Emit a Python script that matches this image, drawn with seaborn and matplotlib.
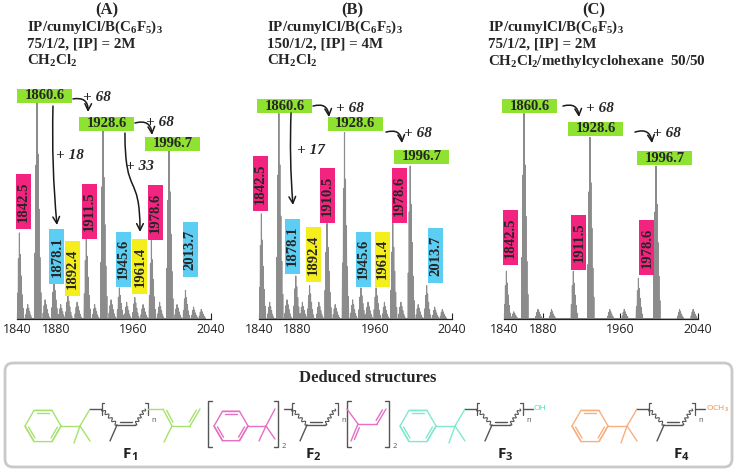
import numpy as np
import pandas as pd
import seaborn as sns
import matplotlib
matplotlib.use("Agg")
import matplotlib.pyplot as plt
from matplotlib.patches import Rectangle, FancyBboxPatch, FancyArrowPatch
from matplotlib.path import Path

# ---------------- data ----------------
# labelled peaks: m/z, height (% of panel scale), series (g=F1, p=F2, c=F3, y=F4)
mz_A = [1842.5, 1860.6, 1878.1, 1892.4, 1911.5, 1928.6, 1945.6, 1961.4, 1978.6, 1996.7, 2013.7]
int_A = [36, 92, 16, 10, 35, 79, 13, 9, 33, 71, 12]
fam_A = ["p", "g", "c", "y", "p", "g", "c", "y", "p", "g", "c"]
txt_A = ["1842.5", "1860.6", "1878.1", "1892.4", "1911.5", "1928.6", "1945.6", "1961.4", "1978.6", "1996.7", "2013.7"]

mz_B = [1842.5, 1860.6, 1878.1, 1892.4, 1910.5, 1928.6, 1945.6, 1961.4, 1978.6, 1996.7, 2013.7]
int_B = [44, 86, 18, 14, 40, 78, 13, 13, 40, 64, 14]
fam_B = ["p", "g", "c", "y", "p", "g", "c", "y", "p", "g", "c"]
txt_B = ["1842.5", "1860.6", "1878.1", "1892.4", "1910.5", "1928.6", "1945.6", "1961.4", "1978.6", "1996.7", "2013.7"]

mz_C = [1842.5, 1860.6, 1911.5, 1928.6, 1978.6, 1996.7]
int_C = [20, 86, 20, 76, 17, 64]
fam_C = ["p", "g", "p", "g", "p", "g"]
txt_C = ["1842.5", "1860.6", "1911.5", "1928.6", "1978.6", "1996.7"]

# small unlabelled peaks (baseline)
minor_mz_A = [1851, 1869, 1885, 1902, 1920, 1937, 1953, 1970, 1987, 2005, 2022, 2030]
minor_int_A = [6, 8, 6, 7, 6, 8, 7, 6, 7, 6, 5, 4]
minor_mz_B = [1851, 1869, 1885, 1902, 1919, 1937, 1953, 1970, 1987, 2005, 2022, 2030]
minor_int_B = [7, 8, 7, 7, 6, 8, 7, 7, 7, 6, 5, 4]
minor_mz_C = [1850, 1875, 1889, 1949, 1964, 2021, 2035]
minor_int_C = [3, 4, 4, 4, 4, 4, 4]

# isotope envelope read from the main clusters
iso_off = [-2, -1, 0, 1, 2, 3, 4]
iso_rel = [0.3, 0.7, 1.0, 0.75, 0.5, 0.28, 0.12]

# mass shifts written between labels
shift_A = ["+ 68", "+ 68", "+ 18", "+ 33"]
shift_B = ["+ 68", "+ 68", "+ 17"]
shift_C = ["+ 68", "+ 68"]

titles = ["(A)", "(B)", "(C)"]
conds = [
    [r"IP/cumylCl/B(C$_\mathrm{6}$F$_\mathrm{5}$)$_\mathrm{3}$", "75/1/2, [IP] = 2M", r"CH$_\mathrm{2}$Cl$_\mathrm{2}$"],
    [r"IP/cumylCl/B(C$_\mathrm{6}$F$_\mathrm{5}$)$_\mathrm{3}$", "150/1/2, [IP] = 4M", r"CH$_\mathrm{2}$Cl$_\mathrm{2}$"],
    [r"IP/cumylCl/B(C$_\mathrm{6}$F$_\mathrm{5}$)$_\mathrm{3}$", "75/1/2, [IP] = 2M",
     r"CH$_\mathrm{2}$Cl$_\mathrm{2}$/methylcyclohexane  50/50"],
]
xticks = [1840, 1880, 1960, 2040]

# ---------------- layout (positions in m/z / height units) ----------------
lab_A = [(1846.9, 49), (1868.4, 93.5), (1881.2, 26), (1897.2, 21), (1914.7, 45), (1932.3, 81.6),
         (1949.3, 25), (1966.8, 21.8), (1982.8, 44.4), (2000.8, 73.4), (2018.4, 28.9)]
lab_B = [(1841.5, 56.5), (1866.4, 89.1), (1874.7, 30.5), (1896.5, 26.8), (1910.5, 51.5), (1939.5, 81.6),
         (1948.3, 25.1), (1968.0, 25.1), (1985.6, 51.5), (2008.9, 67.8), (2022.9, 26.4)]
lab_C = [(1846.2, 33.9), (1866.8, 89.1), (1917.3, 32.0), (1934.6, 79.5), (1987.4, 29.9), (2005.9, 67.2)]

# arrows: (start, end, curvature), shift text positions
arr_A = [((1897.7, 92.1), (1913.2, 86.6), -0.6), ((1961.6, 82.0), (1979.2, 77.0), -0.6),
         ((1877.1, 89.1), (1881.2, 39.3), 0.03), None]
txtpos_A = [(1922.5, 92.5), (1987.4, 82.4), (1894.6, 68.6), (1966.8, 64.0)]
arr_B = [((1896.0, 89.1), (1912.5, 84.5), -0.6), ((1971.6, 78.2), (1988.2, 73.6), -0.6),
         ((1873.2, 86.2), (1875.2, 47.7), 0.03)]
txtpos_B = [(1934.3, 87.9), (2004.8, 77.8), (1893.9, 70.3)]
arr_C = [((1900.8, 89.1), (1917.3, 84.5), -0.6), ((1975.0, 78.2), (1992.6, 73.6), -0.6)]
txtpos_C = [(1939.0, 87.9), (2008.0, 77.8)]

W, H = 737, 472
panel_px = [(17, 194), (259, 193), (504, 194)]   # left, width of each spectrum axis
AX_BOTTOM, AX_TOP = 319, 80

fam_col = {"g": "#8fe22f", "p": "#f2247f", "c": "#5ccdf3", "y": "#f4ee1c"}

sns.set_theme(style="white")
plt.rcParams["font.family"] = ["Open Sans", "DejaVu Sans"]
plt.rcParams["mathtext.fontset"] = "custom"
plt.rcParams["mathtext.rm"] = "Liberation Serif:bold"
plt.rcParams["mathtext.it"] = "Liberation Serif:bold:italic"
plt.rcParams["mathtext.bf"] = "Liberation Serif:bold"
SERIF = "Liberation Serif"

fig = plt.figure(figsize=(W / 100, H / 100), dpi=100)

# overlay axes in pixel coordinates for titles and structures
ov = fig.add_axes([0, 0, 1, 1])
ov.set_xlim(0, W)
ov.set_ylim(H, 0)
ov.axis("off")


def stick_frame(mz, inten, minor_mz, minor_int):
    xs, ys = [], []
    for m, h in list(zip(mz, inten)) + list(zip(minor_mz, minor_int)):
        for o, r in zip(iso_off, iso_rel):
            c = m + o
            xs += [c - 0.35, c, c + 0.35]
            ys += [0, h * r, 0]
    return pd.DataFrame({"mz": xs, "intensity": ys})


def tag(ax, x, y, text, fam, wpx):
    vertical = fam != "g"
    w, h = (15, 55) if vertical else (55, 14)
    dx = w * 200 / wpx
    dy = h * 100 / (AX_BOTTOM - AX_TOP)
    ax.add_patch(Rectangle((x - dx / 2, y - dy / 2), dx, dy, facecolor=fam_col[fam],
                           edgecolor="none", clip_on=False, zorder=3))
    ax.text(x, y, text, rotation=90 if vertical else 0, ha="center", va="center",
            fontsize=10.5, fontweight="bold", family=SERIF, zorder=4, clip_on=False)


panels = [
    (mz_A, int_A, fam_A, txt_A, minor_mz_A, minor_int_A, lab_A, arr_A, shift_A, txtpos_A),
    (mz_B, int_B, fam_B, txt_B, minor_mz_B, minor_int_B, lab_B, arr_B, shift_B, txtpos_B),
    (mz_C, int_C, fam_C, txt_C, minor_mz_C, minor_int_C, lab_C, arr_C, shift_C, txtpos_C),
]

for i, (mz, inten, fam, txt, mmz, mint, labs, arrs, shifts, tpos) in enumerate(panels):
    left, wpx = panel_px[i]
    ax = fig.add_axes([left / W, (H - AX_BOTTOM) / H, wpx / W, (AX_BOTTOM - AX_TOP) / H])
    ax.set_facecolor("none")
    df = stick_frame(mz, inten, mmz, mint)
    sns.lineplot(data=df, x="mz", y="intensity", sort=False, estimator=None,
                 color="#8c8c8c", lw=0.8, ax=ax)
    ax.set_xlim(1840, 2040)
    ax.set_ylim(0, 100)
    ax.set_xticks(xticks)
    ax.set_yticks([])
    ax.set_xlabel("")
    ax.set_ylabel("")
    sns.despine(ax=ax, left=True)
    ax.spines["bottom"].set_color("#222222")
    ax.spines["bottom"].set_linewidth(0.9)
    ax.tick_params(axis="x", direction="in", length=4, width=0.8, pad=3,
                   labelsize=9, colors="#222222", bottom=True)

    for (lx, ly), t, f in zip(labs, txt, fam):
        tag(ax, lx, ly, t, f, wpx)

    for k, a in enumerate(arrs):
        if a is None:
            # S-shaped long arrow from 1928.6 down to 1961.4
            verts = [(1951.3, 77.8), (1951.3, 50), (1966.8, 62), (1966.8, 36.4)]
            p = Path(verts, [Path.MOVETO, Path.CURVE4, Path.CURVE4, Path.CURVE4])
            ax.add_patch(FancyArrowPatch(path=p, arrowstyle="->", mutation_scale=12,
                                         color="k", lw=1.1, zorder=5, clip_on=False))
            continue
        s, e, rad = a
        ax.annotate("", xy=e, xytext=s,
                    arrowprops=dict(arrowstyle="->", color="k", lw=1.1, shrinkA=0, shrinkB=0,
                                    mutation_scale=12, connectionstyle=f"arc3,rad={rad}"),
                    annotation_clip=False, zorder=5)
    for t, (tx, ty) in zip(shifts, tpos):
        ax.text(tx, ty, t, ha="center", va="center", fontsize=11, fontweight="bold",
                fontstyle="italic", family=SERIF, zorder=5)

# titles and conditions
title_cx = [107, 352, 594]
cond_left = [27, 267, 488]
for i in range(3):
    ov.text(title_cx[i], 10, titles[i], ha="center", va="center", fontsize=12,
            fontweight="bold", family=SERIF)
    for j, line in enumerate(conds[i]):
        ov.text(cond_left[i], 27 + 17 * j, line, ha="left", va="center", fontsize=10.8,
                fontweight="bold", family=SERIF)

# ---------------- deduced structures box ----------------
ov.add_patch(FancyBboxPatch((5, 363), 727, 104, boxstyle="round,pad=0,rounding_size=8",
                            facecolor="white", edgecolor="#c9c9c9", lw=2))
ov.text(368, 378, "Deduced structures", ha="center", va="center", fontsize=12,
        fontweight="bold", family=SERIF)

GRAY = "#555555"
LW = 1.0


def seg(p, q, col):
    ov.plot([p[0], q[0]], [p[1], q[1]], color=col, lw=LW, solid_capstyle="round")


def dbl(p, q, col, toward):
    seg(p, q, col)
    p, q, c = np.array(p, float), np.array(q, float), np.array(toward, float)
    d = q - p
    n = np.array([-d[1], d[0]]) / np.hypot(*d)
    if np.dot(c - (p + q) / 2, n) < 0:
        n = -n
    p2 = p + n * 2.6 + d * 0.15
    q2 = q + n * 2.6 - d * 0.15
    seg(p2, q2, col)


def hexring(cx, cy, r, col):
    ang = np.deg2rad(np.arange(0, 361, 60))
    xs = cx + r * np.cos(ang)
    ys = cy - r * np.sin(ang)
    ov.plot(xs, ys, color=col, lw=LW)
    for k in (1, 3, 5):
        dbl((xs[k], ys[k]), (xs[k + 1], ys[k + 1]), col, (cx, cy))


def wavy(p, q, col=GRAY):
    t = np.linspace(0, 1, 80)
    p, q = np.array(p, float), np.array(q, float)
    d = q - p
    n = np.array([-d[1], d[0]]) / np.hypot(*d)
    amp = 1.4 * np.sin(t * 2 * np.pi * 4.5)
    pts = np.outer(1 - t, p) + np.outer(t, q) + np.outer(amp, n)
    ov.plot(pts[:, 0], pts[:, 1], color=col, lw=0.8)


def small_bracket(x, y, side):
    ov.plot([x, x], [y - 6, y + 6], color=GRAY, lw=0.9)
    ov.plot([x, x + 2.5 * side], [y - 6, y - 6], color=GRAY, lw=0.9)


def big_bracket(x, side, sub=None):
    ov.plot([x + 4 * side, x, x, x + 4 * side], [401, 401, 447, 447], color=GRAY, lw=1.0)
    if sub:
        ov.text(x + 4, 447, sub, fontsize=5.5, color=GRAY, ha="left", va="center")


def flabel(x, num):
    ov.text(x, 454, "F", ha="center", va="center", fontsize=11, fontweight="bold",
            family="Open Sans", color="#222222")
    ov.text(x + 4, 458, num, ha="left", va="center", fontsize=8, fontweight="bold",
            family="Open Sans", color="#222222")


def chain(x0):
    # polyisoprene repeat unit starting at x0 on the upper row (y=409)
    small_bracket(x0, 409, 1)
    wavy((x0, 409), (x0 + 15, 425))
    dbl((x0 + 15, 425), (x0 + 33, 425), GRAY, (x0 + 24, 418))
    seg((x0 + 15, 425), (x0 + 8, 441), GRAY)
    wavy((x0 + 33, 425), (x0 + 43, 409))
    small_bracket(x0 + 46, 409, -1)
    ov.text(x0 + 49, 420, "n", fontsize=5.5, color=GRAY, ha="left", va="center")
    return x0 + 46


def cumyl(cx, col):
    hexring(cx, 426, 18, col)
    q = (cx + 37, 426)
    seg((cx + 18, 426), q, col)
    seg(q, (cx + 47, 409), col)
    seg(q, (cx + 31, 443), col)
    seg(q, (cx + 47, 441), col)
    return cx + 47


# F1
C1 = "#a6e26c"
xe = cumyl(43, C1)
seg((xe, 409), (xe + 11, 409), GRAY)
xb = chain(xe + 12)
seg((xb, 409), (xb + 15, 409), C1)
dbl((xb + 15, 409), (xb + 24, 426), C1, (xb + 30, 412))
seg((xb + 24, 426), (xb + 16, 442), C1)
seg((xb + 24, 426), (xb + 42, 426), C1)
dbl((xb + 42, 426), (xb + 52, 409), C1, (xb + 40, 412))
flabel(127, "1")

# F2
C2 = "#e66fc3"
big_bracket(208, 1)
hexring(231, 426, 17, C2)
seg((248, 426), (266, 426), C2)
seg((266, 426), (275, 409), C2)
seg((266, 426), (259, 441), C2)
seg((266, 426), (275, 439), C2)
big_bracket(278, -1, "2")
seg((284, 409), (292, 409), GRAY)
xb = chain(292)
big_bracket(347, 1)
seg((347, 409), (358, 424), C2)
dbl((358, 424), (351, 441), C2, (362, 436))
seg((358, 424), (377, 424), C2)
dbl((377, 424), (386, 409), C2, (375, 411))
big_bracket(389, -1, "2")
flabel(310, "2")

# F3
C3 = "#7fe9cf"
xe = cumyl(418, C3)
seg((xe, 409), (xe + 11, 409), GRAY)
xb = chain(xe + 12)
seg((xb, 409), (xb + 10, 409), GRAY)
ov.text(xb + 11, 409, "OH", fontsize=6, color="#3fe0c0", ha="left", va="center")
flabel(502, "3")

# F4
C4 = "#f7b07e"
xe = cumyl(590, C4)
seg((xe, 409), (xe + 11, 409), GRAY)
xb = chain(xe + 12)
seg((xb, 409), (xb + 10, 409), GRAY)
ov.text(xb + 11, 409, r"OCH$_\mathrm{3}$", fontsize=6, color="#f08a4a", ha="left", va="center")
flabel(678, "4")

fig.savefig("out.png", dpi=100)
